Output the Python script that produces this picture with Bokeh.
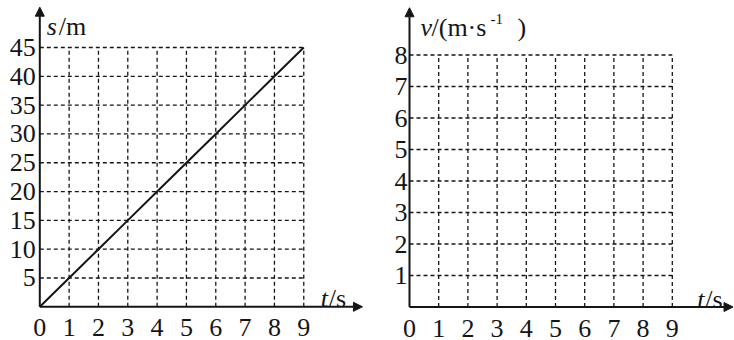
from bokeh.plotting import figure
from bokeh.layouts import row
from bokeh.models import Range1d, Arrow, NormalHead
from bokeh.core.properties import value
from bokeh.embed import file_html
from bokeh.resources import INLINE

# ---- data ----
t_ticks = [0, 1, 2, 3, 4, 5, 6, 7, 8, 9]
t_labels = ["0", "1", "2", "3", "4", "5", "6", "7", "8", "9"]
s_ticks = [5, 10, 15, 20, 25, 30, 35, 40, 45]
s_labels = ["5", "10", "15", "20", "25", "30", "35", "40", "45"]
v_ticks = [1, 2, 3, 4, 5, 6, 7, 8]
v_labels = ["1", "2", "3", "4", "5", "6", "7", "8"]
t_values = [0, 1, 2, 3, 4, 5, 6, 7, 8, 9]
s_values = [0, 5, 10, 15, 20, 25, 30, 35, 40, 45]

PW, H = 367, 340
INK = "#151515"


def make_panel(ox, oy, sx, sy):
    p = figure(width=PW, height=H, output_backend="svg", toolbar_location=None,
               x_axis_location=None, y_axis_location=None, min_border=0,
               x_range=Range1d(-ox / sx, (PW - ox) / sx),
               y_range=Range1d((oy - H) / sy, oy / sy))
    p.outline_line_color = None
    p.grid.grid_line_color = None
    return p


def txt(p, x, y, labels, size="26px", italic=False, **kw):
    if italic:
        kw["text_font_style"] = "italic"
    p.text(x=x, y=y, text=labels, text_font=value("Liberation Serif"),
           text_font_size=size, text_color=INK, **kw)


def grid_axes(p, y_ticks, y_labels, x_tip, y_tip, ylab_off):
    t_max = t_ticks[-1]
    y_max = y_ticks[-1]
    n = len(t_ticks) - 1
    txt(p, t_ticks, [0] * len(t_ticks), t_labels, text_align="center", text_baseline="middle", y_offset=21)
    txt(p, [0] * len(y_ticks), y_ticks, y_labels, text_align="right", text_baseline="middle", x_offset=ylab_off)
    p.segment(x0=[0] * len(y_ticks), y0=y_ticks, x1=[t_max] * len(y_ticks), y1=y_ticks,
              line_color=INK, line_width=1.3, line_dash="4 3")
    p.segment(x0=t_ticks[1:], y0=[0] * n, x1=t_ticks[1:], y1=[y_max] * n,
              line_color=INK, line_width=1.3, line_dash="4 3")
    for xe, ye in ((x_tip, 0), (0, y_tip)):
        p.add_layout(Arrow(end=NormalHead(size=9, fill_color=INK, line_color=INK, line_width=1),
                           x_start=0, y_start=0, x_end=xe, y_end=ye,
                           line_color=INK, line_width=2))


# ---------- left panel: s-t ----------
pl = make_panel(39.3, 306.3, 29.33, 5.762)
grid_axes(pl, s_ticks, s_labels, 11.0, 52.0, -4)
pl.line(t_values, s_values, line_color=INK, line_width=2)
txt(pl, [0], [s_ticks[-1]], ["s"], italic=True, text_align="left", text_baseline="alphabetic",
    x_offset=7, y_offset=-21)
txt(pl, [0], [s_ticks[-1]], ["/m"], text_align="left", text_baseline="alphabetic",
    x_offset=19, y_offset=-21)
txt(pl, [9], [0], ["t"], italic=True, text_align="left", text_baseline="alphabetic",
    x_offset=17, y_offset=-8)
txt(pl, [9], [0], ["/s"], text_align="left", text_baseline="alphabetic", x_offset=25, y_offset=-8)

# ---------- right panel: v-t (empty grid) ----------
pr = make_panel(42.0, 306.5, 29.2, 31.5)
grid_axes(pr, v_ticks, v_labels, 11.08, 9.5, -2)
txt(pr, [0], [v_ticks[-1]], ["v"], italic=True, text_align="left", text_baseline="alphabetic",
    x_offset=11, y_offset=-28)
txt(pr, [0], [v_ticks[-1]], ["/(m·s"], text_align="left", text_baseline="alphabetic",
    x_offset=22, y_offset=-28)
txt(pr, [0], [v_ticks[-1]], ["-1"], size="15px", text_align="left", text_baseline="alphabetic",
    x_offset=81, y_offset=-36)
txt(pr, [0], [v_ticks[-1]], [")"], text_align="left", text_baseline="alphabetic",
    x_offset=108, y_offset=-28)
txt(pr, [9], [0], ["t"], italic=True, text_align="left", text_baseline="alphabetic",
    x_offset=25, y_offset=-8)
txt(pr, [9], [0], ["/s"], text_align="left", text_baseline="alphabetic", x_offset=33, y_offset=-8)

open("out.html", "w").write(file_html(row(pl, pr), INLINE))
